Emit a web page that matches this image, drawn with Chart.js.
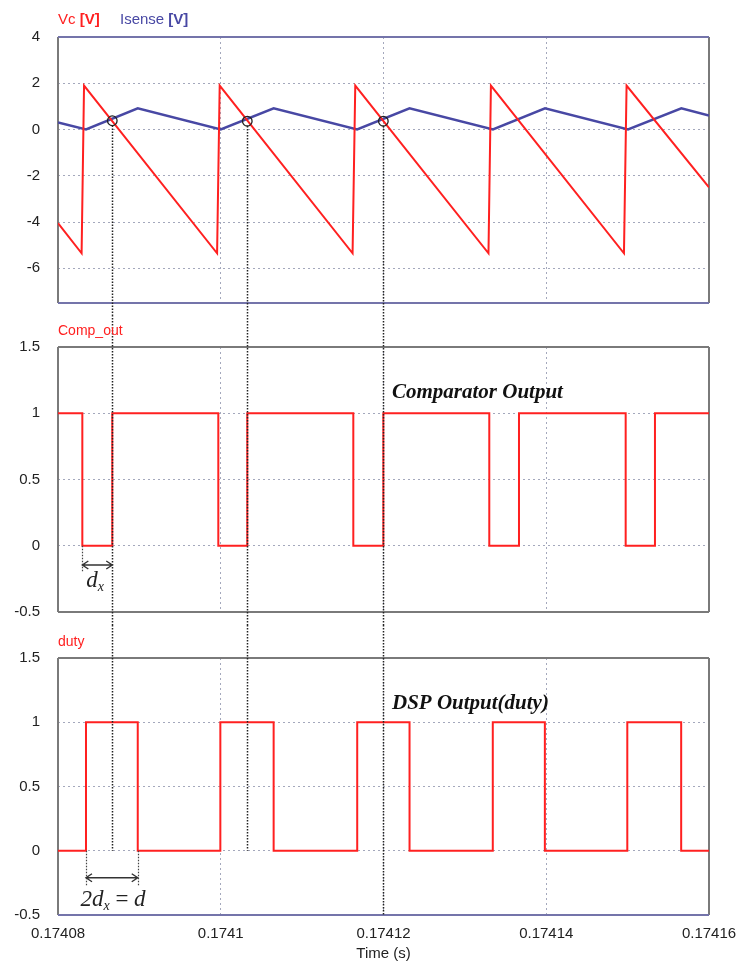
<!DOCTYPE html>
<html><head><meta charset="utf-8">
<script src="https://cdn.jsdelivr.net/npm/chart.js@4.4.1/dist/chart.umd.min.js"></script>
<style>
html,body{margin:0;padding:0;background:#fff;}
#wrap{position:relative;width:739px;height:963px;overflow:hidden;background:#fff;}
canvas{position:absolute;left:0;}
</style></head><body>
<div id="wrap">
<canvas id="c1" width="739" height="315" style="top:0px"></canvas>
<canvas id="c2" width="739" height="310" style="top:315px"></canvas>
<canvas id="c3" width="739" height="338" style="top:625px"></canvas>
</div>
<script>
// ---------- data ----------
const xMin = 0.17408, xMax = 0.17416;
const xTicks = [0.17408, 0.1741, 0.17412, 0.17414, 0.17416];
const xTickLabels = ['0.17408', '0.1741', '0.17412', '0.17414', '0.17416'];
const vcYTicks = [-6, -4, -2, 0, 2, 4];
const vcYLabels = ['-6', '-4', '-2', '0', '2', '4'];
const stepYTicks = [-0.5, 0, 0.5, 1, 1.5];
const stepYLabels = ['-0.5', '0', '0.5', '1', '1.5'];

const vcTime = [0.17408, 0.1740829, 0.1740832, 0.17409955, 0.17409987, 0.1741162, 0.17411653, 0.1741329, 0.1741332, 0.17414955, 0.17414987, 0.17416];
const vcValue = [-4.05, -5.35, 1.9, -5.35, 1.9, -5.35, 1.9, -5.35, 1.9, -5.35, 1.9, -2.5];
const isenseTime = [0.17408, 0.17408344, 0.1740898, 0.1741, 0.1741065, 0.17411676, 0.1741232, 0.17413345, 0.17413985, 0.17415005, 0.1741566, 0.17416];
const isenseValue = [0.3, 0.0, 0.92, 0.0, 0.92, 0.0, 0.92, 0.0, 0.92, 0.0, 0.92, 0.6];
const crossTime = [0.17408667, 0.17410326, 0.17411998];
const crossValue = [0.38, 0.36, 0.36];
const markerEnd = [0, 0, -0.5];

const compTime = [0.17408, 0.17408299, 0.17408667, 0.1740997, 0.17410326, 0.17411629, 0.17411998, 0.174133, 0.17413665, 0.17414976, 0.17415336, 0.17416];
const compValue = [1, 0, 1, 0, 1, 0, 1, 0, 1, 0, 1, 1];
const dutyTime = [0.17408, 0.17408344, 0.1740898, 0.17409995, 0.1741065, 0.17411677, 0.1741232, 0.17413343, 0.17413983, 0.17414996, 0.17415658, 0.17416];
const dutyValue = [0, 1, 0, 1, 0, 1, 0, 1, 0, 1, 0, 0];

// ---------- styles / annotation placement ----------
const RED = '#ff2020', BLUE = '#4848a4';
const gridColor = '#a4a8bc';
const tickFont = {family: '"Liberation Sans", Arial, sans-serif', size: 15};
const tickColor = '#222';
const frameBlue = '#7474aa', frameGray = '#7a7a7a';
const dxAnn = {arrowY: -0.145, dashTo: -0.2, labelX: 0.17408455, labelY: -0.25};
const dAnn = {arrowY: -0.21, dashTo: -0.27, labelX: 0.17408676, labelY: -0.37};
const compTitle = {x: 0.17412104, y: 1.167, text: 'Comparator Output'};
const dutyTitle = {x: 0.17412104, y: 1.154, text: 'DSP Output(duty)'};

const pts = (t, v) => t.map((x, i) => ({x: x, y: v[i]}));

function drawFrame(chart, c) {
  const {ctx, chartArea: a} = chart;
  ctx.save();
  ctx.lineWidth = 2;
  const seg = (col, x1, y1, x2, y2) => { ctx.strokeStyle = col; ctx.beginPath(); ctx.moveTo(x1, y1); ctx.lineTo(x2, y2); ctx.stroke(); };
  seg(c.left, a.left, a.top, a.left, a.bottom);
  seg(c.right, a.right, a.top, a.right, a.bottom);
  seg(c.top, a.left, a.top, a.right, a.top);
  seg(c.bottom, a.left, a.bottom, a.right, a.bottom);
  ctx.restore();
}
function vline(ctx, x, y1, y2, col, w, dash) {
  ctx.save();
  ctx.strokeStyle = col || '#222';
  ctx.lineWidth = w || 1.5;
  ctx.setLineDash(dash || [1.5, 1.5]);
  ctx.beginPath(); ctx.moveTo(Math.round(x) + 0.5, y1); ctx.lineTo(Math.round(x) + 0.5, y2); ctx.stroke();
  ctx.restore();
}
function arrow(ctx, x1, x2, y) {
  ctx.save();
  ctx.strokeStyle = '#333'; ctx.lineWidth = 1.4;
  ctx.beginPath(); ctx.moveTo(x1, y); ctx.lineTo(x2, y);
  ctx.moveTo(x1 + 6, y - 4); ctx.lineTo(x1, y); ctx.lineTo(x1 + 6, y + 4);
  ctx.moveTo(x2 - 6, y - 4); ctx.lineTo(x2, y); ctx.lineTo(x2 - 6, y + 4);
  ctx.stroke();
  ctx.restore();
}
function runs(ctx, list, x, y, align) {
  ctx.save();
  ctx.textBaseline = 'alphabetic';
  let total = 0;
  list.forEach(r => { ctx.font = r.font; r.w = ctx.measureText(r.t).width; total += r.w; });
  let cx = align === 'center' ? x - total / 2 : x;
  list.forEach(r => { ctx.font = r.font; ctx.fillStyle = r.color; ctx.fillText(r.t, cx, y + (r.dy || 0)); cx += r.w; });
  ctx.restore();
}

function yAxis(min, max, ticks, labels) {
  return {
    min: min, max: max,
    afterBuildTicks: s => { s.ticks = ticks.map(v => ({value: v})); },
    afterFit: s => { s.width = 58; },
    ticks: {font: tickFont, color: tickColor, padding: 0, callback: (v, i) => labels[i]},
    grid: {drawTicks: true, tickLength: 18, tickColor: 'rgba(0,0,0,0)', lineWidth: 1,
           color: c => (c.tick && c.tick.value > min && c.tick.value < max) ? gridColor : 'rgba(0,0,0,0)'},
    border: {display: false, dash: [2, 3]}
  };
}
function xAxis(show, height) {
  return {
    type: 'linear', min: xMin, max: xMax,
    afterBuildTicks: s => { s.ticks = xTicks.map(v => ({value: v})); },
    afterFit: s => { s.height = height; },
    ticks: {display: show, autoSkip: false, maxRotation: 0, padding: 1, font: tickFont, color: tickColor, callback: (v, i) => xTickLabels[i]},
    grid: {drawTicks: true, tickLength: 9, tickColor: 'rgba(0,0,0,0)', lineWidth: 1,
           color: c => (c.tick && c.tick.value > xMin + 1e-9 && c.tick.value < xMax - 1e-9) ? gridColor : 'rgba(0,0,0,0)'},
    border: {display: false, dash: [2, 3]},
    title: {display: show, text: 'Time (s)', font: tickFont, color: tickColor, padding: {top: 0, bottom: 0}}
  };
}
function makeChart(id, cfg) {
  return new Chart(document.getElementById(id), {
    type: 'line',
    data: {datasets: cfg.datasets},
    options: {
      responsive: false, animation: false, devicePixelRatio: 1,
      layout: {padding: {top: cfg.padTop, right: 30, left: 0, bottom: 0}},
      plugins: {legend: {display: false}, tooltip: {enabled: false}},
      elements: {point: {radius: 0}, line: {tension: 0}},
      scales: {x: xAxis(cfg.showX, cfg.xHeight), y: cfg.y}
    },
    plugins: [cfg.plugin]
  });
}

const serifI = s => 'italic ' + s + 'px "Liberation Serif", serif';
const titleFont = 'italic bold 21px "Liberation Serif", serif';

// ---------- panel 1: Vc & Isense ----------
makeChart('c1', {
  padTop: 37, xHeight: 12, showX: false,
  y: yAxis(-7.5, 4, vcYTicks, vcYLabels),
  datasets: [
    {data: pts(crossTime, crossValue), showLine: false, pointRadius: 4.8, pointBorderColor: '#222', pointBackgroundColor: 'rgba(0,0,0,0)', pointBorderWidth: 1.3},
    {data: pts(vcTime, vcValue), borderColor: RED, borderWidth: 2},
    {data: pts(isenseTime, isenseValue), borderColor: BLUE, borderWidth: 2.5}
  ],
  plugin: {
    id: 'p1',
    beforeDatasetsDraw(ch) { drawFrame(ch, {top: frameBlue, bottom: frameBlue, left: frameGray, right: frameGray}); },
    afterDatasetsDraw(ch) {
      const {ctx, scales: {x, y}} = ch;
      crossTime.forEach((t, i) => vline(ctx, x.getPixelForValue(t), y.getPixelForValue(crossValue[i]) + 4.8, ch.height));
    },
    afterDraw(ch) {
      const f = '15px "Liberation Sans", Arial, sans-serif', fb = 'bold 15px "Liberation Sans", Arial, sans-serif';
      runs(ch.ctx, [{t: 'Vc ', font: f, color: RED}, {t: '[V]', font: fb, color: RED}], 58, 24);
      runs(ch.ctx, [{t: 'Isense ', font: f, color: BLUE}, {t: '[V]', font: fb, color: BLUE}], 120, 24);
    }
  }
});

// ---------- panel 2: Comp_out ----------
makeChart('c2', {
  padTop: 32, xHeight: 13, showX: false,
  y: yAxis(-0.5, 1.5, stepYTicks, stepYLabels),
  datasets: [
    {data: pts(compTime, compValue), borderColor: RED, borderWidth: 2, stepped: true}
  ],
  plugin: {
    id: 'p2',
    beforeDatasetsDraw(ch) { drawFrame(ch, {top: frameGray, bottom: frameGray, left: frameGray, right: frameGray}); },
    afterDatasetsDraw(ch) {
      const {ctx, scales: {x, y}} = ch;
      crossTime.forEach(t => vline(ctx, x.getPixelForValue(t), 0, ch.height));
      const xa = x.getPixelForValue(compTime[1]), xb = x.getPixelForValue(compTime[2]);
      vline(ctx, xa, y.getPixelForValue(0), y.getPixelForValue(dxAnn.dashTo), '#444', 1.2, [1.5, 1.5]);
      arrow(ctx, xa, xb, y.getPixelForValue(dxAnn.arrowY));
      const lx = x.getPixelForValue(dxAnn.labelX), ly = y.getPixelForValue(dxAnn.labelY);
      runs(ctx, [{t: 'd', font: serifI(23), color: '#222'},
                 {t: 'x', font: serifI(14), color: '#222', dy: 4}], lx, ly + 8, 'center');
      runs(ctx, [{t: compTitle.text, font: titleFont, color: '#111'}],
           x.getPixelForValue(compTitle.x), y.getPixelForValue(compTitle.y) + 7);
    },
    afterDraw(ch) {
      runs(ch.ctx, [{t: 'Comp_out', font: '14px "Liberation Sans", Arial, sans-serif', color: RED}], 58, 20);
    }
  }
});

// ---------- panel 3: duty ----------
makeChart('c3', {
  padTop: 33, xHeight: 48, showX: true,
  y: yAxis(-0.5, 1.5, stepYTicks, stepYLabels),
  datasets: [
    {data: pts(dutyTime, dutyValue), borderColor: RED, borderWidth: 2, stepped: true}
  ],
  plugin: {
    id: 'p3',
    beforeDatasetsDraw(ch) { drawFrame(ch, {top: frameGray, bottom: frameBlue, left: frameGray, right: frameGray}); },
    afterDatasetsDraw(ch) {
      const {ctx, scales: {x, y}} = ch;
      crossTime.forEach((t, i) => vline(ctx, x.getPixelForValue(t), 0, y.getPixelForValue(markerEnd[i])));
      const xa = x.getPixelForValue(dutyTime[1]), xb = x.getPixelForValue(dutyTime[2]);
      vline(ctx, xa, y.getPixelForValue(0), y.getPixelForValue(dAnn.dashTo), '#444', 1.2, [1.5, 1.5]);
      vline(ctx, xb, y.getPixelForValue(0), y.getPixelForValue(dAnn.dashTo), '#444', 1.2, [1.5, 1.5]);
      arrow(ctx, xa, xb, y.getPixelForValue(dAnn.arrowY));
      const lx = x.getPixelForValue(dAnn.labelX), ly = y.getPixelForValue(dAnn.labelY);
      runs(ctx, [{t: '2d', font: serifI(23), color: '#222'},
                 {t: 'x', font: serifI(14), color: '#222', dy: 4},
                 {t: ' = ', font: '23px "Liberation Serif", serif', color: '#222'},
                 {t: 'd', font: serifI(23), color: '#222'}], lx, ly + 8, 'center');
      runs(ctx, [{t: dutyTitle.text, font: titleFont, color: '#111'}],
           x.getPixelForValue(dutyTitle.x), y.getPixelForValue(dutyTitle.y) + 7);
    },
    afterDraw(ch) {
      runs(ch.ctx, [{t: 'duty', font: '14px "Liberation Sans", Arial, sans-serif', color: RED}], 58, 21);
    }
  }
});
</script>
</body></html>
